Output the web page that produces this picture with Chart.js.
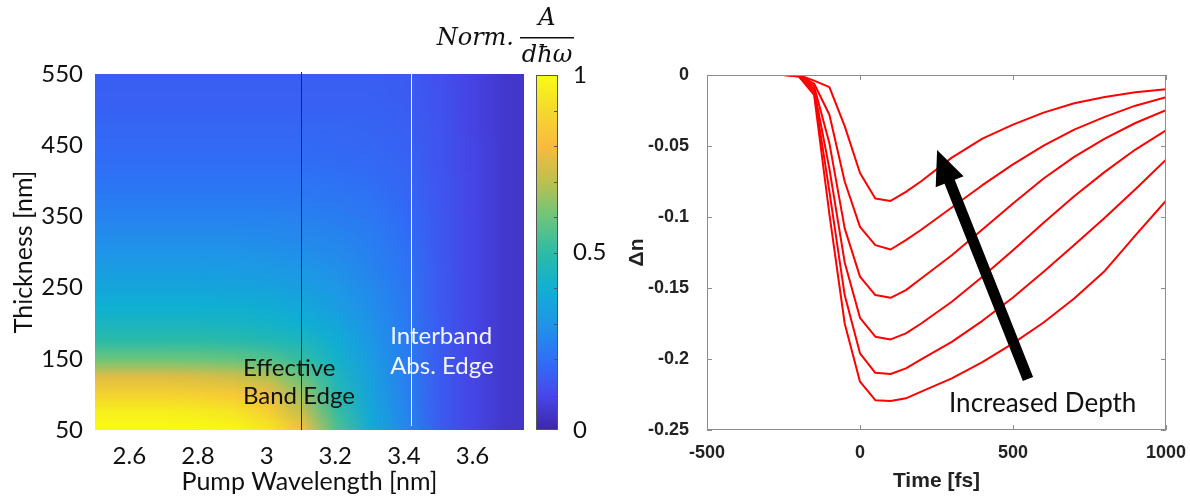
<!DOCTYPE html>
<html>
<head>
<meta charset="utf-8">
<script src="https://cdn.jsdelivr.net/npm/chart.js@4/dist/chart.umd.min.js"></script>
<style>
  body { margin: 0; background: #fff; width: 1190px; height: 496px; position: relative; overflow: hidden; }
  .box { position: absolute; top: 0; height: 496px; }
</style>
</head>
<body>
<div class="box" style="left:0;width:600px"><canvas id="graph--heat"></canvas></div>
<div class="box" style="left:516px;width:100px"><canvas id="graph--bar"></canvas></div>
<div class="box" style="left:600px;width:590px"><canvas id="graph--depth"></canvas></div>
<script>
// Left panel: pump wavelength columns and thickness rows
const wavelengths = [2.5, 2.6, 2.7, 2.8, 2.9, 3.0, 3.1, 3.2, 3.3, 3.4, 3.5, 3.6, 3.7]
const thickness = [50, 75, 100, 125, 150, 175, 200, 225, 250, 275, 300, 325, 350, 375, 400, 425, 450, 475, 500, 525, 550]
// Normalised absorption, one row per thickness (bottom row first)
const absorption = [
  [1.00, 1.00, 1.00, 1.00, 0.99, 0.95, 0.82, 0.56, 0.39, 0.27, 0.15, 0.09, 0.05],
  [0.97, 0.97, 0.97, 0.96, 0.94, 0.87, 0.72, 0.52, 0.37, 0.26, 0.15, 0.09, 0.05],
  [0.88, 0.88, 0.88, 0.87, 0.85, 0.79, 0.66, 0.48, 0.355, 0.25, 0.15, 0.09, 0.05],
  [0.76, 0.76, 0.76, 0.75, 0.73, 0.69, 0.59, 0.45, 0.34, 0.245, 0.15, 0.09, 0.05],
  [0.60, 0.60, 0.60, 0.595, 0.585, 0.56, 0.51, 0.42, 0.325, 0.24, 0.15, 0.09, 0.05],
  [0.50, 0.50, 0.50, 0.50, 0.49, 0.475, 0.45, 0.39, 0.31, 0.235, 0.15, 0.09, 0.05],
  [0.44, 0.44, 0.44, 0.44, 0.435, 0.425, 0.40, 0.36, 0.295, 0.23, 0.15, 0.09, 0.05],
  [0.40, 0.40, 0.40, 0.40, 0.395, 0.385, 0.365, 0.33, 0.28, 0.225, 0.145, 0.09, 0.05],
  [0.36, 0.36, 0.36, 0.36, 0.355, 0.35, 0.335, 0.31, 0.27, 0.22, 0.145, 0.09, 0.05],
  [0.33, 0.33, 0.33, 0.33, 0.325, 0.32, 0.31, 0.29, 0.255, 0.21, 0.145, 0.09, 0.05],
  [0.30, 0.30, 0.30, 0.30, 0.30, 0.295, 0.285, 0.27, 0.245, 0.205, 0.14, 0.09, 0.05],
  [0.275, 0.275, 0.275, 0.275, 0.275, 0.27, 0.265, 0.255, 0.235, 0.195, 0.14, 0.09, 0.05],
  [0.25, 0.25, 0.25, 0.25, 0.25, 0.25, 0.245, 0.235, 0.22, 0.19, 0.14, 0.09, 0.05],
  [0.23, 0.23, 0.23, 0.23, 0.23, 0.23, 0.225, 0.22, 0.21, 0.18, 0.135, 0.09, 0.05],
  [0.21, 0.21, 0.21, 0.21, 0.21, 0.21, 0.21, 0.205, 0.195, 0.175, 0.135, 0.09, 0.05],
  [0.195, 0.195, 0.195, 0.195, 0.195, 0.195, 0.195, 0.19, 0.185, 0.17, 0.13, 0.09, 0.05],
  [0.185, 0.185, 0.185, 0.185, 0.185, 0.185, 0.185, 0.18, 0.175, 0.165, 0.13, 0.09, 0.05],
  [0.175, 0.175, 0.175, 0.175, 0.175, 0.175, 0.175, 0.175, 0.17, 0.16, 0.13, 0.085, 0.05],
  [0.165, 0.165, 0.165, 0.165, 0.165, 0.165, 0.165, 0.165, 0.165, 0.155, 0.125, 0.085, 0.05],
  [0.16, 0.16, 0.16, 0.16, 0.16, 0.16, 0.16, 0.16, 0.16, 0.15, 0.125, 0.085, 0.05],
  [0.155, 0.155, 0.155, 0.155, 0.155, 0.155, 0.155, 0.155, 0.155, 0.15, 0.12, 0.085, 0.05]
]
const bandEdges = [3.1, 3.42]
const wlTicks = [2.6, 2.8, 3, 3.2, 3.4, 3.6]
const thickTicks = [50, 150, 250, 350, 450, 550]
const barTicks = [0, 0.5, 1]

// Right panel: pump-probe delay and the six index-change traces
const times = [-300, -250, -200, -150, -100, -50, 0, 50, 100, 150, 200, 300, 400, 500, 600, 700, 800, 900, 1000]
const depth1 = [0, 0, 0, -0.004, -0.0085, -0.036, -0.069, -0.087, -0.0887, -0.0823, -0.0748, -0.0582, -0.0448, -0.0349, -0.0265, -0.0199, -0.0155, -0.0122, -0.0100]
const depth2 = [0, 0, 0, -0.006, -0.028, -0.075, -0.107, -0.1198, -0.1229, -0.1163, -0.109, -0.0933, -0.0776, -0.0629, -0.0497, -0.0385, -0.0295, -0.0216, -0.0157]
const depth3 = [0, 0, 0, -0.008, -0.048, -0.108, -0.142, -0.155, -0.1569, -0.1515, -0.1433, -0.1269, -0.1088, -0.0905, -0.0729, -0.0577, -0.0448, -0.0338, -0.0247]
const depth4 = [0, 0, 0, -0.010, -0.066, -0.132, -0.171, -0.1843, -0.1862, -0.182, -0.175, -0.1597, -0.1421, -0.1234, -0.1041, -0.0854, -0.0682, -0.0525, -0.039]
const depth5 = [0, 0, -0.001, -0.012, -0.082, -0.155, -0.196, -0.2097, -0.2106, -0.2066, -0.2003, -0.1879, -0.1731, -0.1567, -0.1386, -0.1198, -0.1006, -0.0804, -0.0596]
const depth6 = [0, 0, -0.001, -0.014, -0.098, -0.175, -0.216, -0.229, -0.2296, -0.2277, -0.223, -0.2137, -0.2022, -0.189, -0.1743, -0.1574, -0.138, -0.113, -0.0885]
const timeTicks = [-500, 0, 500, 1000]
const dnTicks = [-0.25, -0.2, -0.15, -0.1, -0.05, 0]
// arrow drawn in data units: tail then tip
const arrowTail = [549, -0.2141]
const arrowTip = [252, -0.0529]

// parula-like colour map
const cmapStops = [0, 0.1, 0.2, 0.3, 0.4, 0.5, 0.6, 0.7, 0.8, 0.9, 1]
const cmapColors = [[62, 38, 168], [71, 72, 236], [47, 112, 246], [31, 149, 232], [15, 176, 210], [45, 187, 166], [109, 197, 123], [189, 192, 78], [249, 187, 62], [244, 217, 45], [249, 251, 21]]

function parula(v) {
  v = Math.max(0, Math.min(1, v))
  let i = 0
  while (i < cmapStops.length - 2 && v > cmapStops[i + 1]) i++
  const t = (v - cmapStops[i]) / (cmapStops[i + 1] - cmapStops[i])
  return cmapColors[i].map((c, k) => Math.round(c + (cmapColors[i + 1][k] - c) * t))
}

const calibri = 'Lato, "Open Sans", sans-serif'
const arialBold = { family: '"Liberation Sans", Arial, sans-serif', weight: 'bold', size: 18 }
const setTicks = list => scale => { scale.ticks = list.map(v => ({ value: v })) }

const heatPlugin = {
  id: 'heat',
  beforeDatasetsDraw(chart) {
    const { ctx, chartArea: a, scales: { x, y } } = chart
    const cols = wavelengths.length, rows = thickness.length
    const off = document.createElement('canvas')
    off.width = cols
    off.height = rows
    const octx = off.getContext('2d')
    const img = octx.createImageData(cols, rows)
    absorption.forEach((row, r) => row.forEach((v, c) => {
      const [R, G, B] = parula(v)
      const i = ((rows - 1 - r) * cols + c) * 4
      img.data[i] = R; img.data[i + 1] = G; img.data[i + 2] = B; img.data[i + 3] = 255
    }))
    octx.putImageData(img, 0, 0)
    const dx = (wavelengths[1] - wavelengths[0]) / 2
    const dy = (thickness[1] - thickness[0]) / 2
    const x0 = x.getPixelForValue(wavelengths[0] - dx)
    const x1 = x.getPixelForValue(wavelengths[cols - 1] + dx)
    const y0 = y.getPixelForValue(thickness[rows - 1] + dy)
    const y1 = y.getPixelForValue(thickness[0] - dy)
    ctx.save()
    ctx.beginPath()
    ctx.rect(a.left, a.top, a.right - a.left, a.bottom - a.top)
    ctx.clip()
    ctx.imageSmoothingEnabled = true
    ctx.imageSmoothingQuality = 'low'
    ctx.drawImage(off, x0, y0, x1 - x0, y1 - y0)
    ctx.restore()
  },
  afterDraw(chart) {
    const { ctx, chartArea: a, scales: { x, y } } = chart
    ctx.save()
    // band edge markers
    ctx.lineWidth = 1
    ctx.strokeStyle = '#2a2a2a'
    let px = Math.round(x.getPixelForValue(bandEdges[0])) + 0.5
    ctx.beginPath(); ctx.moveTo(px, a.top - 2); ctx.lineTo(px, a.bottom); ctx.stroke()
    ctx.strokeStyle = '#f4f4ff'
    px = Math.round(x.getPixelForValue(bandEdges[1])) + 0.5
    ctx.beginPath(); ctx.moveTo(px, a.top); ctx.lineTo(px, a.bottom - 4); ctx.stroke()

    ctx.font = '24px ' + calibri
    ctx.textAlign = 'left'
    ctx.textBaseline = 'middle'
    ctx.fillStyle = '#111'
    ctx.fillText('Effective', x.getPixelForValue(2.931), y.getPixelForValue(137))
    ctx.fillText('Band Edge', x.getPixelForValue(2.931), y.getPixelForValue(97))
    ctx.fillStyle = '#f2f4fc'
    ctx.fillText('Interband', x.getPixelForValue(3.36), y.getPixelForValue(182))
    ctx.fillText('Abs. Edge', x.getPixelForValue(3.36), y.getPixelForValue(139))

    // colour bar title
    ctx.fillStyle = '#111'
    ctx.font = 'italic 24px "DejaVu Serif", serif'
    ctx.textBaseline = 'alphabetic'
    ctx.textAlign = 'right'
    ctx.fillText('Norm.', 514, 45)
    ctx.textAlign = 'center'
    ctx.fillText('A', 547, 25)
    ctx.fillText('d\u0127\u03c9', 547, 62)
    ctx.fillRect(520, 37, 54, 1.5)
    ctx.restore()
  }
}

const barPlugin = {
  id: 'bar',
  beforeDatasetsDraw(chart) {
    const { ctx, chartArea: a, scales: { y } } = chart
    const grad = ctx.createLinearGradient(0, y.getPixelForValue(0), 0, y.getPixelForValue(1))
    cmapStops.forEach((s, i) => grad.addColorStop(s, 'rgb(' + cmapColors[i].join(',') + ')'))
    ctx.save()
    ctx.fillStyle = grad
    ctx.fillRect(a.left, a.top, a.right - a.left, a.bottom - a.top)
    ctx.strokeStyle = '#555'
    ctx.lineWidth = 1
    ctx.strokeRect(a.left + 0.5, a.top + 0.5, a.right - a.left - 1, a.bottom - a.top - 1)
    for (let v = 0.1; v < 0.95; v += 0.1) {
      const py = Math.round(y.getPixelForValue(v)) + 0.5
      ctx.beginPath(); ctx.moveTo(a.right - 4, py); ctx.lineTo(a.right, py); ctx.stroke()
    }
    ctx.restore()
  }
}

const boxPlugin = {
  id: 'box',
  afterDatasetsDraw(chart) {
    const { ctx, chartArea: a, scales: { x, y } } = chart
    ctx.save()
    ctx.strokeStyle = '#8c8c8c'
    ctx.lineWidth = 1
    ctx.strokeRect(a.left + 0.5, a.top + 0.5, a.right - a.left - 1, a.bottom - a.top - 1)
    ctx.beginPath()
    timeTicks.forEach(t => {
      const px = Math.round(x.getPixelForValue(t)) + 0.5
      ctx.moveTo(px, a.bottom); ctx.lineTo(px, a.bottom - 5)
      ctx.moveTo(px, a.top); ctx.lineTo(px, a.top + 5)
    })
    dnTicks.forEach(v => {
      const py = Math.round(y.getPixelForValue(v)) + 0.5
      ctx.moveTo(a.left, py); ctx.lineTo(a.left + 5, py)
      ctx.moveTo(a.right, py); ctx.lineTo(a.right - 5, py)
    })
    ctx.stroke()

    // arrow from tail to tip
    const tx = x.getPixelForValue(arrowTail[0]), ty = y.getPixelForValue(arrowTail[1])
    const hx = x.getPixelForValue(arrowTip[0]), hy = y.getPixelForValue(arrowTip[1])
    const len = Math.hypot(hx - tx, hy - ty)
    const ux = (hx - tx) / len, uy = (hy - ty) / len
    const nx = -uy, ny = ux
    const headLen = 34, headW = 15, shaftW = 5.5
    const bx = hx - ux * headLen, by = hy - uy * headLen
    ctx.fillStyle = '#000'
    ctx.beginPath()
    ctx.moveTo(tx + nx * shaftW, ty + ny * shaftW)
    ctx.lineTo(bx + nx * shaftW, by + ny * shaftW)
    ctx.lineTo(bx + nx * headW, by + ny * headW)
    ctx.lineTo(hx, hy)
    ctx.lineTo(bx - nx * headW, by - ny * headW)
    ctx.lineTo(bx - nx * shaftW, by - ny * shaftW)
    ctx.lineTo(tx - nx * shaftW, ty - ny * shaftW)
    ctx.closePath()
    ctx.fill()

    ctx.font = '26px ' + calibri
    ctx.fillStyle = '#111'
    ctx.textAlign = 'left'
    ctx.textBaseline = 'middle'
    ctx.fillText('Increased Depth', x.getPixelForValue(291), y.getPixelForValue(-0.2317))
    ctx.restore()
  }
}

Chart.defaults.animation = false

new Chart(document.querySelector('#graph--heat'), {
  type: 'scatter',
  data: { datasets: [] },
  options: {
    responsive: true,
    maintainAspectRatio: false,
    layout: { padding: { top: 74, right: 76, left: 0, bottom: 0 } },
    plugins: { legend: { display: false }, tooltip: { enabled: false } },
    scales: {
      x: {
        type: 'linear', min: 2.5, max: 3.75,
        afterBuildTicks: setTicks(wlTicks),
        afterFit: s => { s.height = 66 },
        grid: { display: false }, border: { display: false },
        ticks: { color: '#111', font: { family: calibri, size: 24 }, padding: 4, callback: v => String(v) },
        title: { display: true, text: 'Pump Wavelength [nm]', color: '#111', font: { family: calibri, size: 25 }, padding: { top: 0, bottom: -1 } }
      },
      y: {
        type: 'linear', min: 50, max: 550,
        afterBuildTicks: setTicks(thickTicks),
        afterFit: s => { s.width = 95 },
        grid: { display: false }, border: { display: false },
        ticks: { color: '#111', font: { family: calibri, size: 24 }, padding: 4 },
        title: { display: true, text: 'Thickness [nm]', color: '#111', font: { family: calibri, size: 25 }, padding: { top: 9, bottom: 0 } }
      }
    }
  },
  plugins: [heatPlugin]
})

new Chart(document.querySelector('#graph--bar'), {
  type: 'scatter',
  data: { datasets: [] },
  options: {
    responsive: true,
    maintainAspectRatio: false,
    layout: { padding: { top: 75, right: 0, left: 20, bottom: 66 } },
    plugins: { legend: { display: false }, tooltip: { enabled: false } },
    scales: {
      x: { display: false, min: 0, max: 1 },
      y: {
        position: 'right', min: 0, max: 1,
        afterBuildTicks: setTicks(barTicks),
        afterFit: s => { s.width = 58 },
        grid: { display: false }, border: { display: false },
        ticks: { color: '#111', font: { family: calibri, size: 24 }, padding: 7, callback: v => String(v) }
      }
    }
  },
  plugins: [barPlugin]
})

const traces = [depth1, depth2, depth3, depth4, depth5, depth6]

new Chart(document.querySelector('#graph--depth'), {
  type: 'line',
  data: {
    datasets: traces.map(d => ({
      data: times.map((t, i) => ({ x: t, y: d[i] })),
      borderColor: '#ff0000',
      borderWidth: 2,
      borderJoinStyle: 'round',
      pointRadius: 0,
      tension: 0,
      fill: false
    }))
  },
  options: {
    responsive: true,
    maintainAspectRatio: false,
    layout: { padding: { top: 75, right: 24, left: 0, bottom: 0 } },
    plugins: { legend: { display: false }, tooltip: { enabled: false } },
    scales: {
      x: {
        type: 'linear', min: -500, max: 1000,
        afterBuildTicks: setTicks(timeTicks),
        afterFit: s => { s.height = 66 },
        grid: { display: false }, border: { display: false },
        ticks: { color: '#222', font: arialBold, padding: 4, callback: v => String(v) },
        title: { display: true, text: 'Time [fs]', color: '#222', font: { ...arialBold, size: 21 }, padding: { top: 0, bottom: 2 } }
      },
      y: {
        type: 'linear', min: -0.25, max: 0,
        afterBuildTicks: setTicks(dnTicks),
        afterFit: s => { s.width = 107 },
        grid: { display: false }, border: { display: false },
        ticks: { color: '#222', font: arialBold, padding: 10, callback: v => String(+v.toFixed(2)) },
        title: { display: true, text: '\u0394n', color: '#222', font: { ...arialBold, size: 21 }, padding: { top: 25, bottom: 0 } }
      }
    }
  },
  plugins: [boxPlugin]
})
</script>
</body>
</html>
